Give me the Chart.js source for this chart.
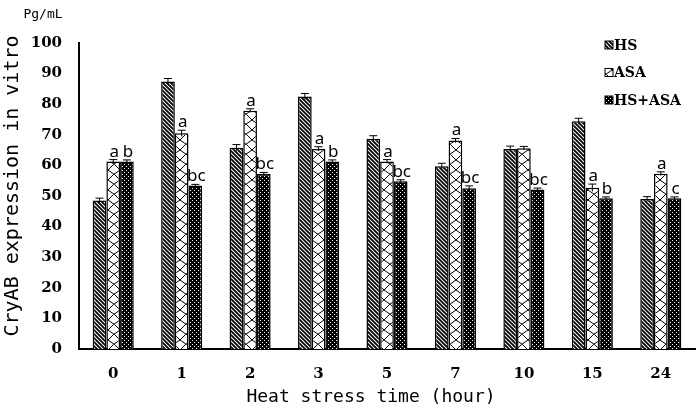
<!DOCTYPE html>
<html>
<head>
<meta charset="utf-8">
<script src="https://cdn.jsdelivr.net/npm/chart.js@4.4.0/dist/chart.umd.min.js"></script>
<style>
  html, body { margin: 0; padding: 0; background: #fff; }
  #wrap { width: 700px; height: 414px; }
</style>
</head>
<body>
<div id="wrap"><canvas id="chart"></canvas></div>
<script>
const hours = ['0', '1', '2', '3', '5', '7', '10', '15', '24'];
const hsValues = [48.5, 87.4, 65.8, 82.5, 68.7, 59.7, 65.4, 74.4, 49.0];
const asaValues = [61.3, 70.5, 77.9, 65.4, 61.3, 68.1, 65.6, 52.7, 57.3];
const comboValues = [61.3, 53.4, 57.2, 61.3, 54.8, 52.5, 52.1, 49.3, 49.3];
const hsErr = [0.8, 1.0, 1.0, 1.0, 1.0, 1.0, 0.9, 1.0, 0.8];
const asaErr = [0.6, 1.0, 0.6, 0.7, 0.6, 0.7, 0.6, 1.2, 0.6];
const comboErr = [0.5, 0.4, 0.5, 0.5, 0.5, 0.8, 0.5, 0.4, 0.4];
const asaLetters = ['a', 'a', 'a', 'a', 'a', 'a', '', 'a', 'a'];
const comboLetters = ['b', 'bc', 'bc', 'b', 'bc', 'bc', 'bc', 'b', 'c'];
const yTicks = [0, 10, 20, 30, 40, 50, 60, 70, 80, 90, 100];

function tile(w, h, draw) {
    const c = document.createElement('canvas');
    c.width = w; c.height = h;
    const g = c.getContext('2d');
    draw(g);
    return document.createElement('canvas').getContext('2d').createPattern(c, 'repeat');
}

const hsPattern = tile(4, 4, g => {
    g.fillStyle = '#fff'; g.fillRect(0, 0, 4, 4);
    g.strokeStyle = '#000'; g.lineWidth = 1.8;
    g.beginPath();
    g.moveTo(-1, -1); g.lineTo(5, 5);
    g.moveTo(-1, 3); g.lineTo(1, 5);
    g.moveTo(3, -1); g.lineTo(5, 1);
    g.stroke();
});

const asaPattern = tile(12, 10, g => {
    g.fillStyle = '#fff'; g.fillRect(0, 0, 12, 10);
    g.strokeStyle = '#000'; g.lineWidth = 1;
    g.beginPath();
    g.moveTo(0, 0); g.quadraticCurveTo(7, 4, 12, 10);
    g.moveTo(12, 0); g.quadraticCurveTo(5, 4, 0, 10);
    g.stroke();
});

const comboPattern = tile(4, 4, g => {
    g.fillStyle = '#000'; g.fillRect(0, 0, 4, 4);
    g.fillStyle = '#fff';
    g.fillRect(0, 0, 1, 1);
    g.fillRect(2, 2, 1, 1);
});

const errors = [hsErr, asaErr, comboErr];
const letters = [null, asaLetters, comboLetters];

const extrasPlugin = {
    id: 'extras',
    afterDatasetsDraw(chart) {
        const ctx = chart.ctx;
        const y = chart.scales.y;
        ctx.save();
        chart.data.datasets.forEach((ds, di) => {
            const meta = chart.getDatasetMeta(di);
            meta.data.forEach((bar, i) => {
                const v = ds.data[i], e = errors[di][i];
                const top = y.getPixelForValue(v + e);
                const bot = y.getPixelForValue(v - e);
                ctx.strokeStyle = '#000';
                ctx.lineWidth = 1;
                ctx.beginPath();
                ctx.moveTo(bar.x, bot); ctx.lineTo(bar.x, top);
                ctx.moveTo(bar.x - 4, top); ctx.lineTo(bar.x + 4, top);
                ctx.stroke();
                const lab = letters[di] ? letters[di][i] : '';
                if (lab) {
                    ctx.fillStyle = '#000';
                    ctx.font = '17px "Noto Sans"';
                    ctx.textAlign = 'center';
                    ctx.textBaseline = 'alphabetic';
                    ctx.fillText(lab, bar.x + 1, top - 3);
                }
            });
        });
        ctx.restore();
    },
    afterDraw(chart) {
        const ctx = chart.ctx;
        ctx.save();
        ctx.fillStyle = '#000';
        // unit
        ctx.font = '13px "DejaVu Sans Mono"';
        ctx.textAlign = 'center';
        ctx.textBaseline = 'middle';
        ctx.fillText('Pg/mL', 43, 15);
        // x title
        ctx.font = '18px "DejaVu Sans Mono"';
        ctx.fillText('Heat stress time (hour)', 371, 397);
        // y title
        ctx.translate(13, 186);
        ctx.rotate(-Math.PI / 2);
        ctx.font = '20px "DejaVu Sans Mono"';
        ctx.fillText('CryAB expression in vitro', 0, 0);
        ctx.restore();
        // legend
        ctx.save();
        chart.data.datasets.forEach((ds, di) => {
            const cy = 45 + di * 27.5;
            ctx.fillStyle = ds.backgroundColor;
            ctx.fillRect(605, cy - 4, 8, 8);
            ctx.strokeStyle = '#000';
            ctx.lineWidth = 1;
            ctx.strokeRect(605, cy - 4, 8, 8);
            ctx.fillStyle = '#000';
            ctx.font = 'bold 14px "DejaVu Serif"';
            ctx.textAlign = 'left';
            ctx.textBaseline = 'middle';
            ctx.fillText(ds.label, 614, cy + 1);
        });
        ctx.restore();
    }
};

new Chart(document.getElementById('chart'), {
    type: 'bar',
    data: {
        labels: hours,
        datasets: [
            { label: 'HS', data: hsValues, backgroundColor: hsPattern },
            { label: 'ASA', data: asaValues, backgroundColor: asaPattern },
            { label: 'HS+ASA', data: comboValues, backgroundColor: comboPattern }
        ]
    },
    options: {
        responsive: true,
        maintainAspectRatio: false,
        animation: false,
        devicePixelRatio: 1,
        layout: { padding: { left: 0, right: 5, top: 43, bottom: 0 } },
        datasets: {
            bar: { borderColor: '#000', borderWidth: 1.5, categoryPercentage: 0.6, barPercentage: 1.0 }
        },
        plugins: { legend: { display: false }, tooltip: { enabled: false } },
        scales: {
            x: {
                grid: { display: false, drawTicks: false },
                border: { display: true, color: '#000', width: 2 },
                ticks: { color: '#000', padding: 16, font: { family: 'DejaVu Serif', weight: 'bold', size: 15 } },
                afterFit(s) { s.height = 65; }
            },
            y: {
                min: 0, max: 100,
                afterBuildTicks(s) { s.ticks = yTicks.map(v => ({ value: v })); },
                grid: { display: false, drawTicks: false },
                border: { display: true, color: '#000', width: 2 },
                ticks: { color: '#000', padding: 17, font: { family: 'DejaVu Serif', weight: 'bold', size: 15 } },
                afterFit(s) { s.width = 79; }
            }
        }
    },
    plugins: [extrasPlugin]
});
</script>
</body>
</html>
